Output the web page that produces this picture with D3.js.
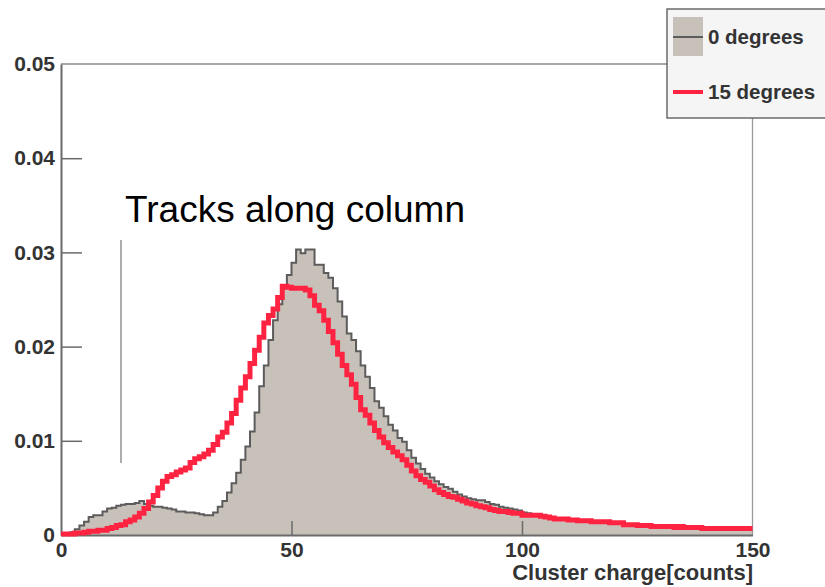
<!DOCTYPE html>
<html>
<head>
<meta charset="utf-8">
<script src="https://cdn.jsdelivr.net/npm/d3@7"></script>
<style>
  html, body { margin: 0; padding: 0; background: #fff; }
  svg { display: block; font-family: "Liberation Sans", Arial, sans-serif; }
</style>
</head>
<body>
<div id="chart"></div>
<script>
// bins of width 1 count, lower edges 0..149
const binLow = d3.range(0, 150, 1);

// 0 degrees (filled histogram)
const deg0 = [
  0.0000, 0.0001, 0.0003, 0.0006, 0.0010, 0.0014, 0.0019, 0.0021, 0.0021, 0.0025,
  0.0028, 0.0029, 0.0031, 0.0032, 0.0033, 0.0033, 0.0034, 0.0036, 0.0033, 0.0031,
  0.0030, 0.0030, 0.0029, 0.0028, 0.0027, 0.0025, 0.0025, 0.0024, 0.0024, 0.0023,
  0.0022, 0.0021, 0.0021, 0.0024, 0.0030, 0.0036, 0.0045, 0.0055, 0.0066, 0.0080,
  0.0094, 0.0110, 0.0130, 0.0158, 0.0180, 0.0207, 0.0228, 0.0245, 0.0262, 0.0276,
  0.0289, 0.0303, 0.0299, 0.0303, 0.0303, 0.0287, 0.0287, 0.0278, 0.0273, 0.0262,
  0.0248, 0.0232, 0.0214, 0.0207, 0.0195, 0.0180, 0.0168, 0.0156, 0.0142, 0.0135,
  0.0126, 0.0117, 0.0111, 0.0103, 0.0099, 0.0090, 0.0082, 0.0076, 0.0070, 0.0065,
  0.0061, 0.0057, 0.0054, 0.0051, 0.0049, 0.0046, 0.0043, 0.0041, 0.0039, 0.0038,
  0.0037, 0.0037, 0.0035, 0.0033, 0.0032, 0.0030, 0.0029, 0.0028, 0.0027, 0.0026,
  0.0024, 0.0023, 0.0022, 0.0021, 0.0020, 0.0018, 0.0017, 0.0016, 0.0016, 0.0016,
  0.0015, 0.0015, 0.0014, 0.0014, 0.0014, 0.0013, 0.0013, 0.0013, 0.0013, 0.0012,
  0.0012, 0.0012, 0.0010, 0.0010, 0.0010, 0.0009, 0.0009, 0.0009, 0.0008, 0.0008,
  0.0008, 0.0008, 0.0008, 0.0007, 0.0008, 0.0007, 0.0007, 0.0007, 0.0007, 0.0006,
  0.0006, 0.0006, 0.0006, 0.0006, 0.0006, 0.0006, 0.0006, 0.0006, 0.0006, 0.0006
];

// 15 degrees (red line)
const deg15 = [
  0.0001, 0.0001, 0.0001, 0.0002, 0.0002, 0.0003, 0.0004, 0.0004, 0.0005, 0.0005,
  0.0007, 0.0008, 0.0010, 0.0011, 0.0014, 0.0016, 0.0019, 0.0023, 0.0028, 0.0035,
  0.0042, 0.0050, 0.0057, 0.0062, 0.0064, 0.0067, 0.0069, 0.0071, 0.0077, 0.0081,
  0.0083, 0.0086, 0.0090, 0.0096, 0.0104, 0.0109, 0.0119, 0.0129, 0.0143, 0.0156,
  0.0168, 0.0182, 0.0196, 0.0210, 0.0225, 0.0233, 0.0240, 0.0252, 0.0264, 0.0263,
  0.0262, 0.0262, 0.0262, 0.0260, 0.0254, 0.0244, 0.0238, 0.0228, 0.0216, 0.0204,
  0.0192, 0.0180, 0.0170, 0.0160, 0.0146, 0.0133, 0.0127, 0.0119, 0.0111, 0.0104,
  0.0098, 0.0093, 0.0088, 0.0084, 0.0080, 0.0074, 0.0068, 0.0063, 0.0059, 0.0056,
  0.0052, 0.0048, 0.0045, 0.0043, 0.0041, 0.0040, 0.0038, 0.0036, 0.0034, 0.0033,
  0.0031, 0.0030, 0.0029, 0.0027, 0.0026, 0.0025, 0.0025, 0.0024, 0.0023, 0.0023,
  0.0021, 0.0021, 0.0021, 0.0021, 0.0020, 0.0019, 0.0018, 0.0017, 0.0017, 0.0017,
  0.0016, 0.0016, 0.0015, 0.0015, 0.0015, 0.0014, 0.0014, 0.0014, 0.0014, 0.0013,
  0.0013, 0.0013, 0.0011, 0.0011, 0.0011, 0.0010, 0.0010, 0.0010, 0.0009, 0.0009,
  0.0009, 0.0009, 0.0009, 0.0008, 0.0009, 0.0008, 0.0008, 0.0008, 0.0008, 0.0007,
  0.0007, 0.0007, 0.0007, 0.0007, 0.0007, 0.0007, 0.0007, 0.0007, 0.0007, 0.0007
];

const xTicks = [0, 50, 100, 150];
const yTicks = [0, 0.01, 0.02, 0.03, 0.04, 0.05];
const yTickLabels = ["0", "0.01", "0.02", "0.03", "0.04", "0.05"];
const legendLabels = ["0 degrees", "15 degrees"];

const WIDTH = 825, HEIGHT = 587;
const PLOT = { left: 61, right: 752.5, top: 64, bottom: 535 };
const FILL = "#c8c1b9", OUTLINE = "#5c5c5c", RED = "#ff2342", AXIS = "#6a6a6a";

const svg = d3.select("#chart").append("svg")
    .attr("width", WIDTH)
    .attr("height", HEIGHT);

const x = d3.scaleLinear().domain([0, 150]).range([PLOT.left, PLOT.right]);
const y = d3.scaleLinear().domain([0, 0.05]).range([PLOT.bottom, PLOT.top]);

// step points: each bin value, plus closing edge at the last bin
const toSteps = vals => binLow.map((b, i) => [b, vals[i]]).concat([[150, vals[vals.length - 1]]]);

const area = d3.area()
    .curve(d3.curveStepAfter)
    .x(d => x(d[0]))
    .y0(y(0))
    .y1(d => y(d[1]));

const line = d3.line()
    .curve(d3.curveStepAfter)
    .x(d => x(d[0]))
    .y(d => y(d[1]));

// 0 degrees histogram
svg.append("path")
    .attr("d", area(toSteps(deg0)))
    .attr("fill", FILL);

svg.append("path")
    .attr("d", line(toSteps(deg0)))
    .attr("fill", "none")
    .attr("stroke", OUTLINE)
    .attr("stroke-width", 2);

// frame top / right
svg.append("line")
    .attr("x1", PLOT.left).attr("x2", PLOT.right)
    .attr("y1", PLOT.top).attr("y2", PLOT.top)
    .attr("stroke", "#8a8a8a").attr("stroke-width", 1.3);
svg.append("line")
    .attr("x1", PLOT.right).attr("x2", PLOT.right)
    .attr("y1", PLOT.top).attr("y2", PLOT.bottom)
    .attr("stroke", "#9a9a9a").attr("stroke-width", 1.3);

// Axes (ticks inside)
const yAxis = svg.append("g")
    .attr("transform", `translate(${PLOT.left},0)`)
    .call(d3.axisLeft(y).tickValues(yTicks).tickFormat((d, i) => yTickLabels[i])
        .tickSizeInner(-21).tickSizeOuter(0).tickPadding(6));

const xAxis = svg.append("g")
    .attr("transform", `translate(0,${PLOT.bottom})`)
    .call(d3.axisBottom(x).tickValues(xTicks).tickFormat(d3.format("d"))
        .tickSizeInner(-14).tickSizeOuter(0).tickPadding(7));

[yAxis, xAxis].forEach(g => {
    g.select(".domain").attr("stroke", AXIS).attr("stroke-width", 2);
    g.selectAll(".tick line").attr("stroke", AXIS).attr("stroke-width", 1.5);
    g.selectAll(".tick text")
        .attr("fill", "#333")
        .attr("font-size", 21)
        .attr("font-weight", "bold")
        .attr("font-family", "'Liberation Sans', Arial, sans-serif");
});
xAxis.selectAll(".tick line").filter(d => d === 0 || d === 150).remove();
yAxis.selectAll(".tick line").filter(d => d === 0 || d === 0.05).remove();

svg.append("text")
    .attr("x", 753)
    .attr("y", 580)
    .attr("text-anchor", "end")
    .attr("fill", "#333")
    .attr("font-size", 22)
    .attr("font-weight", "bold")
    .text("Cluster charge[counts]");

// 15 degrees line
svg.append("path")
    .attr("d", line(toSteps(deg15)))
    .attr("fill", "none")
    .attr("stroke", RED)
    .attr("stroke-width", 5);

// annotation
svg.append("line")
    .attr("x1", 121).attr("x2", 121)
    .attr("y1", 240).attr("y2", 463)
    .attr("stroke", "#808080").attr("stroke-width", 1.3);

svg.append("text")
    .attr("x", 125)
    .attr("y", 222)
    .attr("fill", "#000")
    .attr("font-size", 37)
    .text("Tracks along column");

// Legend
const legend = svg.append("g").attr("transform", "translate(667,9)");
legend.append("rect")
    .attr("x", 0).attr("y", 0)
    .attr("width", 175).attr("height", 109)
    .attr("fill", "#f5f5f5")
    .attr("stroke", "#555")
    .attr("stroke-width", 1.3);

legend.append("rect")
    .attr("x", 6).attr("y", 8)
    .attr("width", 30).attr("height", 39)
    .attr("fill", FILL);
legend.append("line")
    .attr("x1", 6).attr("x2", 36)
    .attr("y1", 28).attr("y2", 28)
    .attr("stroke", OUTLINE).attr("stroke-width", 2);
legend.append("line")
    .attr("x1", 6).attr("x2", 36)
    .attr("y1", 83).attr("y2", 83)
    .attr("stroke", RED).attr("stroke-width", 4);

legend.selectAll("text.lab")
    .data(legendLabels)
    .join("text")
    .attr("class", "lab")
    .attr("x", 41)
    .attr("y", (d, i) => 35 + i * 55)
    .attr("fill", "#333")
    .attr("font-size", 20.5)
    .attr("font-weight", "bold")
    .text(d => d);
</script>
</body>
</html>
